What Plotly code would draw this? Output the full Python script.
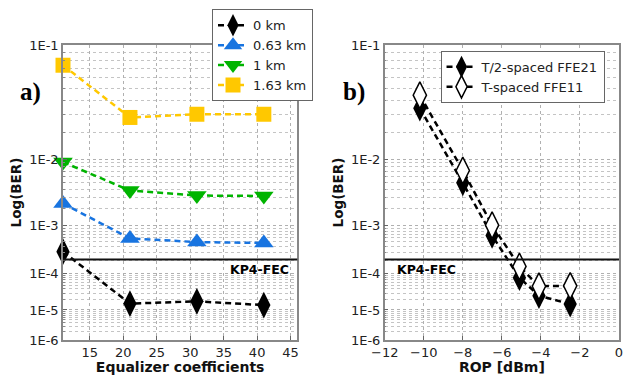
import numpy as np
import plotly.graph_objects as go
from plotly.subplots import make_subplots

# ---------------- data ----------------
eq_coeffs = [11, 21, 31, 41]
ber_0km = [3.1e-4, 1.55e-5, 1.8e-5, 1.4e-5]
ber_063km = [2.4e-3, 5.8e-4, 4.9e-4, 4.7e-4]
ber_1km = [9.2e-3, 3.8e-3, 3.2e-3, 3.15e-3]
ber_163km = [7.4e-2, 2.8e-2, 3.0e-2, 3.0e-2]
series_a_names = ["0 km", "0.63 km", "1 km", "1.63 km"]

rop = [-10.2, -8.0, -6.5, -5.1, -4.1, -2.5]
ber_t2_ffe21 = [3.4e-2, 4.9e-3, 6.6e-4, 7.8e-5, 2.6e-5, 1.5e-5]
ber_t_ffe11 = [4.4e-2, 7.2e-3, 1.03e-3, 1.45e-4, 4.7e-5, 4.8e-5]
series_b_names = ["T/2-spaced FFE21", "T-spaced FFE11"]

kp4_fec = 2.1e-4
ytick_vals = [1e-1, 1e-2, 1e-3, 1e-4, 1e-5, 1e-6]
ytick_text = ["1E-1", "1E-2", "1E-3", "1E-4", "1E-5", "1E-6"]


def tr(b):
    b = np.asarray(b, dtype=float)
    return -np.log10(-np.log10(b))


minor_vals = []
for e in range(-6, -1):
    for m in range(2, 10):
        minor_vals.append(m * 10.0 ** e)

fig = make_subplots(rows=1, cols=2, horizontal_spacing=0.1572)

DASH = "6px,4px"
colors_a = ["#000000", "#1874e0", "#00b400", "#ffc800"]
symbols_a = ["diamond-tall", "triangle-up", "triangle-down", "square"]
sizes_a = [19, 17, 17, 15]
data_a = [ber_0km, ber_063km, ber_1km, ber_163km]

for name, ys, col, sym, sz in zip(series_a_names, data_a, colors_a, symbols_a, sizes_a):
    fig.add_trace(go.Scatter(
        x=eq_coeffs, y=tr(ys), name=name, mode="lines+markers",
        line=dict(color=col, width=2.5, dash=DASH),
        marker=dict(symbol=sym, size=sz, color=col, line=dict(width=0)),
        legend="legend", cliponaxis=False), row=1, col=1)

fig.add_trace(go.Scatter(
    x=rop, y=tr(ber_t2_ffe21), name=series_b_names[0], mode="lines+markers",
    line=dict(color="black", width=2.5, dash=DASH),
    marker=dict(symbol="diamond-tall", size=19, color="black"),
    legend="legend2"), row=1, col=2)
fig.add_trace(go.Scatter(
    x=rop, y=tr(ber_t_ffe11), name=series_b_names[1], mode="lines+markers",
    line=dict(color="black", width=2.5, dash=DASH),
    marker=dict(symbol="diamond-tall", size=19, color="white",
                line=dict(color="black", width=1.5)),
    legend="legend2"), row=1, col=2)

yrange = [float(tr(1e-6)), float(tr(1e-1))]
for c in (1, 2):
    fig.update_yaxes(
        row=1, col=c, range=yrange, tickmode="array",
        tickvals=list(tr(ytick_vals)), ticktext=ytick_text,
        showline=True, mirror=True, linecolor="#888888", linewidth=1.5,
        ticks="inside", ticklen=4, tickcolor="#666666",
        showgrid=True, gridcolor="#b0b0b0", griddash="dot", gridwidth=1,
        zeroline=False,
        tickfont=dict(family="DejaVu Sans", size=13, color="#222222"),
        minor=dict(tickmode="array", tickvals=list(tr(minor_vals)),
                   showgrid=True, gridcolor="#c4c4c4", griddash="dot",
                   gridwidth=1, ticks="inside", ticklen=2, tickcolor="#888888"),
        title=dict(text="<b>Log(BER)</b>", standoff=4,
                   font=dict(family="DejaVu Sans", size=13.5, color="#111111")),
    )

fig.update_xaxes(row=1, col=1, range=[11, 46], tickmode="array",
                 tickvals=[15, 20, 25, 30, 35, 40, 45])
fig.update_xaxes(row=1, col=2, range=[-12, 0], tickmode="array",
                 tickvals=[-12, -10, -8, -6, -4, -2, 0],
                 ticktext=["\u221212", "\u221210", "\u22128", "\u22126", "\u22124", "\u22122", "0"])
for c, t in ((1, "Equalizer coefficients"), (2, "ROP [dBm]")):
    fig.update_xaxes(
        row=1, col=c, showline=True, mirror=True, linecolor="#888888", linewidth=1.5,
        ticks="inside", ticklen=4, tickcolor="#666666",
        showgrid=True, gridcolor="#b0b0b0", griddash="dot", gridwidth=1,
        zeroline=False,
        tickfont=dict(family="DejaVu Sans", size=13, color="#222222"),
        title=dict(text="<b>" + t + "</b>", standoff=2,
                   font=dict(family="DejaVu Sans", size=14, color="#111111")),
    )

# KP4-FEC lines
for c, xr in ((1, "x domain"), (2, "x2 domain")):
    yr = "y" if c == 1 else "y2"
    fig.add_shape(type="line", xref=xr, yref=yr, x0=0, x1=1,
                  y0=float(tr(kp4_fec)), y1=float(tr(kp4_fec)),
                  line=dict(color="#111111", width=2))

fig.add_annotation(xref="x domain", yref="y", x=0.975, y=float(tr(kp4_fec)),
                   text="<b>KP4-FEC</b>", showarrow=False, xanchor="right",
                   yanchor="top", yshift=-1,
                   font=dict(family="DejaVu Sans", size=12.5, color="black"))
fig.add_annotation(xref="x2 domain", yref="y2", x=0.045, y=float(tr(kp4_fec)),
                   text="<b>KP4-FEC</b>", showarrow=False, xanchor="left",
                   yanchor="top", yshift=-1,
                   font=dict(family="DejaVu Sans", size=12.5, color="black"))

# panel labels
fig.add_annotation(xref="paper", yref="paper", x=-0.058, y=0.895,
                   text="<b>a)</b>", showarrow=False, xanchor="center",
                   font=dict(family="Liberation Serif", size=25, color="black"))
fig.add_annotation(xref="paper", yref="paper", x=0.524, y=0.895,
                   text="<b>b)</b>", showarrow=False, xanchor="center",
                   font=dict(family="Liberation Serif", size=25, color="black"))

fig.update_layout(
    width=626, height=375,
    margin=dict(l=63, r=3, t=45, b=32),
    plot_bgcolor="white", paper_bgcolor="white",
    font=dict(family="DejaVu Sans", size=13, color="#333333"),
    legend=dict(x=0.268, y=1.121, xanchor="left", yanchor="top",
                bgcolor="white", bordercolor="#666666", borderwidth=1,
                font=dict(family="DejaVu Sans", size=13, color="#222222"),
                tracegroupgap=0, itemwidth=30),
    legend2=dict(x=0.679, y=0.98, xanchor="left", yanchor="top",
                 bgcolor="white", bordercolor="#666666", borderwidth=1,
                 font=dict(family="DejaVu Sans", size=13, color="#222222"),
                 tracegroupgap=0, itemwidth=30),
)

fig.write_html("out.html")
